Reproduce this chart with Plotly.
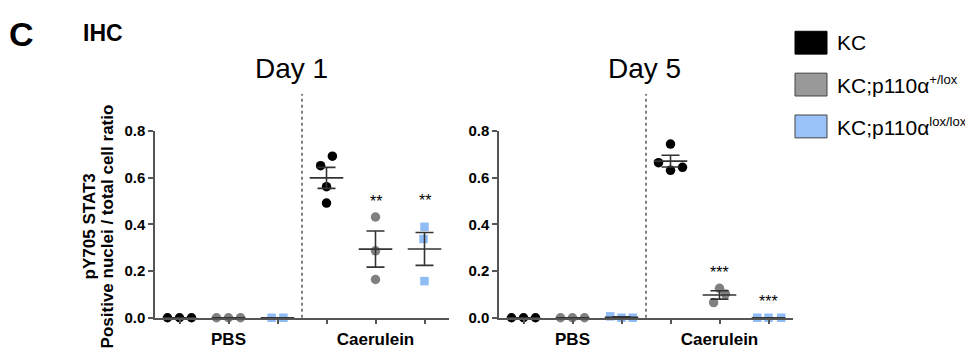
import numpy as np
import plotly.graph_objects as go

# ---------------- data ----------------
genotypes = ["KC", "KC;p110α+/lox", "KC;p110αlox/lox"]
treatments = ["PBS", "Caerulein"]
days = ["Day 1", "Day 5"]

day1_pbs_kc = [0.0, 0.0, 0.0]
day1_pbs_het = [0.0, 0.0, 0.0]
day1_pbs_hom = [0.0, 0.0]
day1_cae_kc = [0.652, 0.693, 0.562, 0.492]
day1_cae_het = [0.432, 0.287, 0.164]
day1_cae_hom = [0.390, 0.338, 0.157]

day5_pbs_kc = [0.0, 0.0, 0.0]
day5_pbs_het = [0.0, 0.0, 0.0]
day5_pbs_hom = [0.006, 0.0, 0.0]
day5_cae_kc = [0.745, 0.665, 0.645, 0.632]
day5_cae_het = [0.126, 0.102, 0.065]
day5_cae_hom = [0.0, 0.0, 0.0]

day1_sig = ["", "", "", "", "**", "**"]
day5_sig = ["", "", "", "", "***", "***"]

y_ticks = [0.0, 0.2, 0.4, 0.6, 0.8]

# ---------------- style ----------------
colors = ["#000000", "#808080", "#8FBCF5"]
legend_fill = ["#000000", "#999999", "#99C2F8"]
symbols = ["circle", "circle", "square"]
# horizontal jitter (category units) for points in each group
day1_jitter = [[-0.245, 0, 0.245], [-0.245, 0, 0.245], [-0.12, 0.12],
               [-0.12, 0.12, 0, 0], [0, 0, 0], [0, -0.02, 0]]
day5_jitter = [[-0.245, 0, 0.245], [-0.245, 0, 0.245], [-0.23, 0, 0.23],
               [0, -0.245, 0.245, 0], [0, 0.12, -0.12], [-0.23, 0, 0.26]]
day1_star_shift = [0, 0, 0, 0, 20, 30]
day5_star_shift = [0, 0, 0, 0, 20, 20]

FONT = "Arial, Liberation Sans, sans-serif"
OFF = 8  # page body margin
W, H = 973 - OFF, 360 - OFF


def px(x):
    return (x - OFF) / W


def py(y):
    return 1 - (y - OFF) / H


panels = [
    (day1_pbs_kc, day1_pbs_het, day1_pbs_hom, day1_cae_kc, day1_cae_het, day1_cae_hom),
    (day5_pbs_kc, day5_pbs_het, day5_pbs_hom, day5_cae_kc, day5_cae_het, day5_cae_hom),
]
jitters = [day1_jitter, day5_jitter]
sigs = [day1_sig, day5_sig]
shifts = [day1_star_shift, day5_star_shift]

fig = go.Figure()
annotations = []
shapes = []

x_domains = [[px(155), px(449)], [px(499), px(793)]]
y_domain = [py(324), py(128)]

for p, groups in enumerate(panels):
    xa = "x" if p == 0 else "x2"
    ya = "y" if p == 0 else "y2"
    for g, vals in enumerate(groups):
        gi = g % 3
        vals = np.array(vals, dtype=float)
        xs = g + np.array(jitters[p][g])
        fig.add_trace(go.Scatter(
            x=xs, y=vals, mode="markers", xaxis=xa, yaxis=ya,
            marker=dict(color=colors[gi], symbol=symbols[gi],
                        size=9.5 if symbols[gi] == "circle" else 8.5,
                        line=dict(width=0)),
            cliponaxis=False, showlegend=False, hoverinfo="skip"))
    for g, vals in enumerate(groups):
        vals = np.array(vals, dtype=float)
        mean = vals.mean()
        sem = vals.std(ddof=1) / np.sqrt(len(vals))
        fig.add_trace(go.Scatter(
            x=[g], y=[mean], mode="markers", xaxis=xa, yaxis=ya,
            marker=dict(symbol="line-ew-open", size=24, color="#333333",
                        line=dict(color="#333333", width=1.6)),
            error_y=dict(type="data", array=[sem], color="#333333",
                         thickness=1.6, width=9),
            cliponaxis=False, showlegend=False, hoverinfo="skip"))
        if sigs[p][g]:
            annotations.append(dict(
                x=g, y=vals.max(), xref=xa, yref=ya, text=sigs[p][g],
                showarrow=False, yanchor="middle", yshift=shifts[p][g] - 4,
                font=dict(family=FONT, size=16, color="#000")))
    # dotted separator
    shapes.append(dict(type="line", xref=xa, yref=(ya + " domain"),
                       x0=2.5, x1=2.5, y0=0, y1=1.2,
                       line=dict(color="#000", width=1, dash="dot")))

axis_common = dict(showline=True, linecolor="#555555", linewidth=1.5,
                   ticks="outside", ticklen=5, tickwidth=1.5, tickcolor="#555555",
                   showgrid=False, zeroline=False)

x_ticktext = ["", "<b>" + treatments[0] + "</b>", "", "", "<b>" + treatments[1] + "</b>", ""]
y_ticktext = [f"<b>{v:.1f}</b>" for v in y_ticks]

fig.update_layout(
    width=W, height=H, margin=dict(l=0, r=0, t=0, b=0),
    plot_bgcolor="white", paper_bgcolor="white",
    xaxis=dict(domain=x_domains[0], range=[-0.5, 5.5], tickvals=list(range(6)),
               ticktext=x_ticktext,
               tickfont=dict(family=FONT, size=17, color="#000"), anchor="y",
               **axis_common),
    xaxis2=dict(domain=x_domains[1], range=[-0.5, 5.5], tickvals=list(range(6)),
                ticktext=x_ticktext,
                tickfont=dict(family=FONT, size=17, color="#000"), anchor="y2",
                **axis_common),
    yaxis=dict(domain=y_domain, range=[0, 0.8], tickvals=y_ticks,
               ticktext=y_ticktext, anchor="x",
               tickfont=dict(family=FONT, size=15, color="#000"), **axis_common),
    yaxis2=dict(domain=y_domain, range=[0, 0.8], tickvals=y_ticks,
                ticktext=y_ticktext, anchor="x2",
                tickfont=dict(family=FONT, size=15, color="#000"), **axis_common),
    font=dict(family=FONT, color="#000"),
)

# titles
annotations += [
    dict(x=px(7), y=py(26), xref="paper", yref="paper", xanchor="left", yanchor="middle",
         text="<b>C</b>", showarrow=False, font=dict(family=FONT, size=34, color="#000")),
    dict(x=px(81), y=py(25), xref="paper", yref="paper", xanchor="left", yanchor="middle",
         text="<b>IHC</b>", showarrow=False, font=dict(family=FONT, size=23, color="#000")),
    dict(x=px(291), y=py(62), xref="paper", yref="paper", xanchor="center", yanchor="middle",
         text=days[0], showarrow=False, font=dict(family=FONT, size=28, color="#000")),
    dict(x=px(644), y=py(62), xref="paper", yref="paper", xanchor="center", yanchor="middle",
         text=days[1], showarrow=False, font=dict(family=FONT, size=28, color="#000")),
    dict(x=px(89), y=py(228), xref="paper", yref="paper", xanchor="center", yanchor="middle",
         text="<b>pY705 STAT3</b>", textangle=-90, showarrow=False,
         font=dict(family=FONT, size=17, color="#000")),
    dict(x=px(107), y=py(228), xref="paper", yref="paper", xanchor="center", yanchor="middle",
         text="<b>Positive nuclei / total cell ratio</b>", textangle=-90, showarrow=False,
         font=dict(family=FONT, size=17, color="#000")),
]

# legend (manual)
legend_text = ["KC",
               "KC;p110α<sup><span style='font-size:13px'>+/lox</span></sup>",
               "KC;p110α<sup><span style='font-size:13px'>lox/lox</span></sup>"]
legend_y = [35, 79, 123]
legend_border = ["#000000", "#444444", "#444444"]
for i in range(3):
    yc = legend_y[i]
    shapes.append(dict(type="rect", xref="paper", yref="paper",
                       x0=px(795), x1=px(827), y0=py(yc + 12), y1=py(yc - 12),
                       fillcolor=legend_fill[i],
                       line=dict(color=legend_border[i], width=1)))
    annotations.append(dict(x=px(835), y=py(yc), xref="paper", yref="paper",
                            xanchor="left", yanchor="middle", text=legend_text[i],
                            showarrow=False, font=dict(family=FONT, size=21, color="#000")))

fig.update_layout(annotations=annotations, shapes=shapes)
fig.write_html("out.html")
